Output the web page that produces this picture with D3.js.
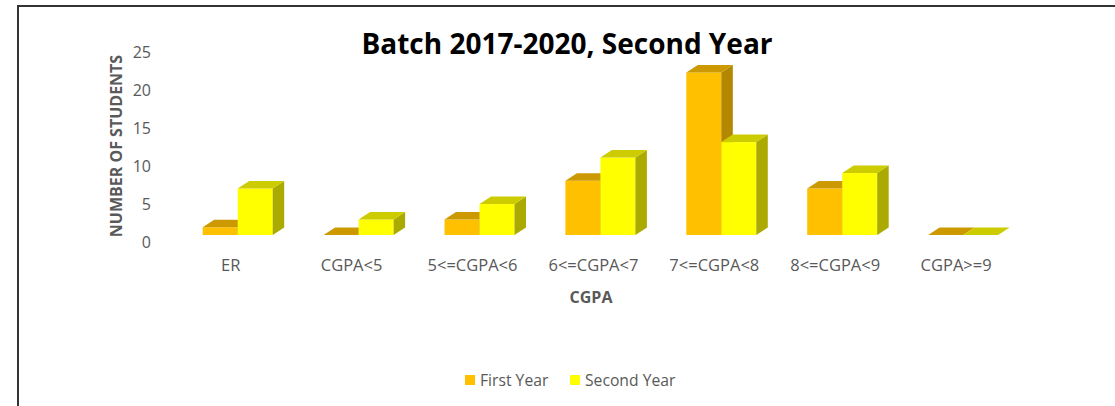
<!DOCTYPE html>
<html>
<head>
<meta charset="utf-8">
<script src="https://cdn.jsdelivr.net/npm/d3@7"></script>
<style>
  html, body { margin: 0; padding: 0; background: #fff; }
  svg { display: block; font-family: "Open Sans", sans-serif; }
</style>
</head>
<body>
<svg id="chart" width="1115" height="406"></svg>
<script>
// ---- data ----
const categories = ["ER", "CGPA<5", "5<=CGPA<6", "6<=CGPA<7", "7<=CGPA<8", "8<=CGPA<9", "CGPA>=9"];
const seriesNames = ["First Year", "Second Year"];
const firstYear = [1, 0, 2, 7, 21, 6, 0];
const secondYear = [6, 2, 4, 10, 12, 8, 0];
const yTicks = [0, 5, 10, 15, 20, 25];
const titleText = "Batch 2017-2020, Second Year";
const xTitle = "CGPA";
const yTitle = "NUMBER OF STUDENTS";

// ---- styling ----
const colors = {
  "First Year":  { front: "#FFC000", top: "#CC9A00", side: "#B38700" },
  "Second Year": { front: "#FFFF00", top: "#CCCC00", side: "#AAAA00" }
};
const depthX = 11.5, depthY = -7.5;
const font = "'Open Sans', sans-serif";

const svg = d3.select("#chart");

// frame
svg.append("path")
  .attr("d", "M18,406 L18,6 L1115,6")
  .attr("fill", "none").attr("stroke", "#333").attr("stroke-width", 2);

// scales
const x = d3.scaleBand().domain(categories)
  .range([177.25, 177.25 + 7 * 120.9])
  .paddingInner(0.421).paddingOuter(0.2105);
const xs = d3.scaleBand().domain(seriesNames).range([0, x.bandwidth()]);
const y = d3.scaleLinear().domain([0, 25]).range([235, 235 - 25 * 7.74]);
const yAxisScale = d3.scaleLinear().domain([0, 25]).range([242.3, 52.7]);

// bars
const rows = [];
categories.forEach((c, i) => {
  rows.push({ cat: c, series: "First Year", value: firstYear[i] });
  rows.push({ cat: c, series: "Second Year", value: secondYear[i] });
});

const barsG = svg.append("g");
rows.forEach(d => {
  const x0 = x(d.cat) + xs(d.series);
  const w = xs.bandwidth();
  const yb = y(0), yt = y(d.value);
  const col = colors[d.series];
  const g = barsG.append("g");
  if (d.value > 0) {
    g.append("rect").attr("x", x0).attr("y", yt).attr("width", w).attr("height", yb - yt)
      .attr("fill", col.front);
    g.append("path")
      .attr("d", `M${x0 + w},${yt} L${x0 + w + depthX},${yt + depthY} L${x0 + w + depthX},${yb + depthY} L${x0 + w},${yb} Z`)
      .attr("fill", col.side);
  }
  g.append("path")
    .attr("d", `M${x0},${yt} L${x0 + depthX},${yt + depthY} L${x0 + w + depthX},${yt + depthY} L${x0 + w},${yt} Z`)
    .attr("fill", col.top);
});

// y axis labels
const yAxis = d3.axisLeft(yAxisScale).tickValues(yTicks).tickSize(0).tickPadding(0);
const yg = svg.append("g").attr("transform", "translate(151,0)").call(yAxis);
yg.select(".domain").remove();
yg.selectAll("text").attr("font-family", font).attr("font-size", 16).attr("fill", "#595959");

// x axis labels
const xAxis = d3.axisBottom(x).tickSize(0).tickPadding(0);
const xg = svg.append("g").attr("transform", "translate(-7,259)").call(xAxis);
xg.select(".domain").remove();
xg.selectAll("text").attr("font-family", font).attr("font-size", 16.5).attr("fill", "#595959");

// titles
svg.append("text").attr("x", 567).attr("y", 54).attr("text-anchor", "middle")
  .attr("font-size", 28).attr("font-weight", "bold").attr("fill", "#000").text(titleText);
svg.append("text").attr("x", 591).attr("y", 303).attr("text-anchor", "middle")
  .attr("font-size", 16).attr("font-weight", "bold").attr("fill", "#595959").text(xTitle);
svg.append("text").attr("transform", "translate(122,146) rotate(-90)").attr("text-anchor", "middle")
  .attr("font-size", 16).attr("font-weight", "bold").attr("fill", "#595959").text(yTitle);

// legend
const legendX = [465, 570];
seriesNames.forEach((s, i) => {
  svg.append("rect").attr("x", legendX[i]).attr("y", 375).attr("width", 10).attr("height", 10)
    .attr("fill", colors[s].front);
  svg.append("text").attr("x", legendX[i] + 15).attr("y", 386)
    .attr("font-size", 15.7).attr("fill", "#595959").text(s);
});
</script>
</body>
</html>
